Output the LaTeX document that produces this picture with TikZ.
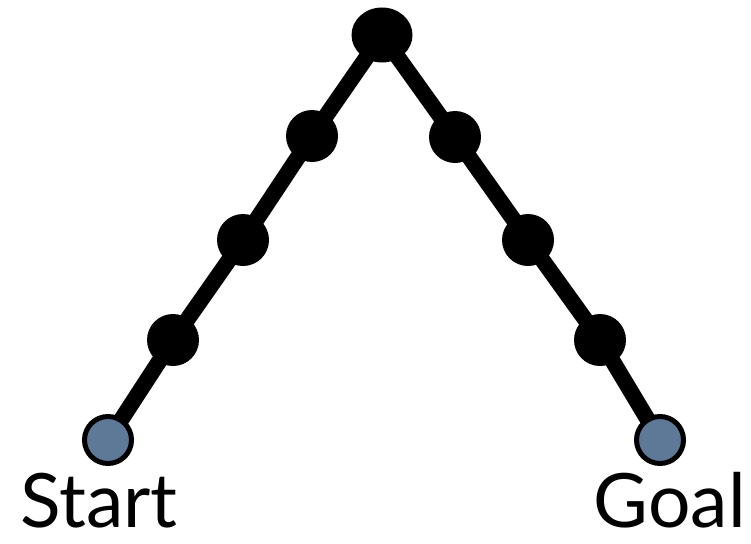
\documentclass[tikz,border=0pt]{standalone}
\usepackage{fontspec}
\setmainfont{Lato}
\usetikzlibrary{shapes.geometric,backgrounds}
\definecolor{endfill}{HTML}{5E7898}
\tikzset{
  waypoint/.style={circle, fill=black, minimum size=52pt, inner sep=0pt},
  apex/.style={ellipse, fill=black, minimum width=61pt, minimum height=55pt, inner sep=0pt},
  endpoint/.style={circle, draw=black, line width=5pt, fill=endfill, minimum size=47pt, inner sep=0pt},
  pathline/.style={line width=16pt, black},
  label/.style={font=\fontsize{75}{80}\selectfont, inner sep=0pt}
}
\begin{document}
\begin{tikzpicture}[x=1pt, y=-1pt]
  \useasboundingbox (0,0) rectangle (751,543);
  % apex and the two chains of waypoints
  \node[apex] (top) at (382,35) {};
  \node[waypoint] (l1) at (312,136) {};
  \node[waypoint] (l2) at (243,240) {};
  \node[waypoint] (l3) at (173,340) {};
  \node[waypoint] (r1) at (455,137) {};
  \node[waypoint] (r2) at (528,240) {};
  \node[waypoint] (r3) at (600,340) {};
  \node[endpoint] (start) at (108,440) {};
  \node[endpoint] (goal) at (660,440) {};
  % connecting path behind the nodes
  \begin{scope}[on background layer]
    \draw[pathline] (start.center) -- (l3.center) -- (l2.center) -- (l1.center) -- (top.center)
      -- (r1.center) -- (r2.center) -- (r3.center) -- (goal.center);
  \end{scope}
  % labels
  \node[label, anchor=base west] (startlabel) at (20,527) {Start};
  \node[label, anchor=base east] (goallabel) at (746,527) {Goal};
\end{tikzpicture}
\end{document}
